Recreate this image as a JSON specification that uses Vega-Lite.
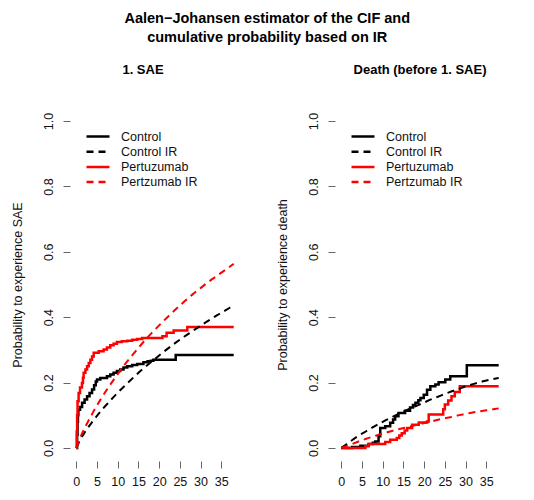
{
  "$schema": "https://vega.github.io/schema/vega-lite/v6.json",
  "padding": {"left": 11, "top": 11, "right": 0, "bottom": 0},
  "datasets": {
    "cif": [
      {"panel":"SAE","series":"Control","t":0,"v":0},
      {"panel":"SAE","series":"Control","t":0.2,"v":0.04},
      {"panel":"SAE","series":"Control","t":0.3,"v":0.08},
      {"panel":"SAE","series":"Control","t":0.4,"v":0.1},
      {"panel":"SAE","series":"Control","t":0.5,"v":0.117},
      {"panel":"SAE","series":"Control","t":0.9,"v":0.125},
      {"panel":"SAE","series":"Control","t":1.4,"v":0.138},
      {"panel":"SAE","series":"Control","t":2.0,"v":0.148},
      {"panel":"SAE","series":"Control","t":2.6,"v":0.158},
      {"panel":"SAE","series":"Control","t":3.2,"v":0.168},
      {"panel":"SAE","series":"Control","t":3.8,"v":0.179},
      {"panel":"SAE","series":"Control","t":4.3,"v":0.192},
      {"panel":"SAE","series":"Control","t":4.7,"v":0.203},
      {"panel":"SAE","series":"Control","t":5.0,"v":0.209},
      {"panel":"SAE","series":"Control","t":5.8,"v":0.214},
      {"panel":"SAE","series":"Control","t":7.4,"v":0.219},
      {"panel":"SAE","series":"Control","t":8.2,"v":0.225},
      {"panel":"SAE","series":"Control","t":9.0,"v":0.23},
      {"panel":"SAE","series":"Control","t":9.8,"v":0.235},
      {"panel":"SAE","series":"Control","t":10.6,"v":0.24},
      {"panel":"SAE","series":"Control","t":11.4,"v":0.246},
      {"panel":"SAE","series":"Control","t":12.3,"v":0.25},
      {"panel":"SAE","series":"Control","t":13.5,"v":0.254},
      {"panel":"SAE","series":"Control","t":14.7,"v":0.257},
      {"panel":"SAE","series":"Control","t":16.2,"v":0.262},
      {"panel":"SAE","series":"Control","t":17.2,"v":0.265},
      {"panel":"SAE","series":"Control","t":18.0,"v":0.267},
      {"panel":"SAE","series":"Control","t":18.6,"v":0.27},
      {"panel":"SAE","series":"Control","t":24.0,"v":0.284},
      {"panel":"SAE","series":"Control","t":38,"v":0.284},
      {"panel":"SAE","series":"Pertuzumab","t":0,"v":0},
      {"panel":"SAE","series":"Pertuzumab","t":0.1,"v":0.05},
      {"panel":"SAE","series":"Pertuzumab","t":0.2,"v":0.1},
      {"panel":"SAE","series":"Pertuzumab","t":0.3,"v":0.143},
      {"panel":"SAE","series":"Pertuzumab","t":0.56,"v":0.168},
      {"panel":"SAE","series":"Pertuzumab","t":0.9,"v":0.185},
      {"panel":"SAE","series":"Pertuzumab","t":1.37,"v":0.199},
      {"panel":"SAE","series":"Pertuzumab","t":1.6,"v":0.215},
      {"panel":"SAE","series":"Pertuzumab","t":1.77,"v":0.23},
      {"panel":"SAE","series":"Pertuzumab","t":2.2,"v":0.24},
      {"panel":"SAE","series":"Pertuzumab","t":2.6,"v":0.25},
      {"panel":"SAE","series":"Pertuzumab","t":3.0,"v":0.26},
      {"panel":"SAE","series":"Pertuzumab","t":3.4,"v":0.27},
      {"panel":"SAE","series":"Pertuzumab","t":3.8,"v":0.28},
      {"panel":"SAE","series":"Pertuzumab","t":4.2,"v":0.291},
      {"panel":"SAE","series":"Pertuzumab","t":5.4,"v":0.296},
      {"panel":"SAE","series":"Pertuzumab","t":6.6,"v":0.301},
      {"panel":"SAE","series":"Pertuzumab","t":7.4,"v":0.307},
      {"panel":"SAE","series":"Pertuzumab","t":8.2,"v":0.314},
      {"panel":"SAE","series":"Pertuzumab","t":9.0,"v":0.319},
      {"panel":"SAE","series":"Pertuzumab","t":9.8,"v":0.324},
      {"panel":"SAE","series":"Pertuzumab","t":11.0,"v":0.326},
      {"panel":"SAE","series":"Pertuzumab","t":12.3,"v":0.328},
      {"panel":"SAE","series":"Pertuzumab","t":13.5,"v":0.331},
      {"panel":"SAE","series":"Pertuzumab","t":14.7,"v":0.333},
      {"panel":"SAE","series":"Pertuzumab","t":15.9,"v":0.336},
      {"panel":"SAE","series":"Pertuzumab","t":20.8,"v":0.342},
      {"panel":"SAE","series":"Pertuzumab","t":21.8,"v":0.352},
      {"panel":"SAE","series":"Pertuzumab","t":23.5,"v":0.359},
      {"panel":"SAE","series":"Pertuzumab","t":26.8,"v":0.37},
      {"panel":"SAE","series":"Pertuzumab","t":38,"v":0.37},
      {"panel":"Death","series":"Control","t":0,"v":0},
      {"panel":"Death","series":"Control","t":2.6,"v":0.003},
      {"panel":"Death","series":"Control","t":4.6,"v":0.007},
      {"panel":"Death","series":"Control","t":6.6,"v":0.012},
      {"panel":"Death","series":"Control","t":7.6,"v":0.016},
      {"panel":"Death","series":"Control","t":8.2,"v":0.02},
      {"panel":"Death","series":"Control","t":9.0,"v":0.036},
      {"panel":"Death","series":"Control","t":9.4,"v":0.061},
      {"panel":"Death","series":"Control","t":10.6,"v":0.066},
      {"panel":"Death","series":"Control","t":11.8,"v":0.077},
      {"panel":"Death","series":"Control","t":12.5,"v":0.087},
      {"panel":"Death","series":"Control","t":13.0,"v":0.097},
      {"panel":"Death","series":"Control","t":13.8,"v":0.107},
      {"panel":"Death","series":"Control","t":15.4,"v":0.114},
      {"panel":"Death","series":"Control","t":16.6,"v":0.124},
      {"panel":"Death","series":"Control","t":17.3,"v":0.131},
      {"panel":"Death","series":"Control","t":17.9,"v":0.138},
      {"panel":"Death","series":"Control","t":18.6,"v":0.146},
      {"panel":"Death","series":"Control","t":19.1,"v":0.153},
      {"panel":"Death","series":"Control","t":19.9,"v":0.163},
      {"panel":"Death","series":"Control","t":20.7,"v":0.178},
      {"panel":"Death","series":"Control","t":21.5,"v":0.189},
      {"panel":"Death","series":"Control","t":22.7,"v":0.194},
      {"panel":"Death","series":"Control","t":23.5,"v":0.201},
      {"panel":"Death","series":"Control","t":25.1,"v":0.209},
      {"panel":"Death","series":"Control","t":26.3,"v":0.219},
      {"panel":"Death","series":"Control","t":30.3,"v":0.253},
      {"panel":"Death","series":"Control","t":38,"v":0.253},
      {"panel":"Death","series":"Pertuzumab","t":0,"v":0},
      {"panel":"Death","series":"Pertuzumab","t":5.8,"v":0.005},
      {"panel":"Death","series":"Pertuzumab","t":6.6,"v":0.012},
      {"panel":"Death","series":"Pertuzumab","t":10.6,"v":0.018},
      {"panel":"Death","series":"Pertuzumab","t":11.8,"v":0.025},
      {"panel":"Death","series":"Pertuzumab","t":13.4,"v":0.03},
      {"panel":"Death","series":"Pertuzumab","t":14.0,"v":0.038},
      {"panel":"Death","series":"Pertuzumab","t":14.6,"v":0.045},
      {"panel":"Death","series":"Pertuzumab","t":15.3,"v":0.053},
      {"panel":"Death","series":"Pertuzumab","t":15.9,"v":0.061},
      {"panel":"Death","series":"Pertuzumab","t":17.1,"v":0.071},
      {"panel":"Death","series":"Pertuzumab","t":18.7,"v":0.078},
      {"panel":"Death","series":"Pertuzumab","t":20.7,"v":0.081},
      {"panel":"Death","series":"Pertuzumab","t":21.1,"v":0.102},
      {"panel":"Death","series":"Pertuzumab","t":24.6,"v":0.118},
      {"panel":"Death","series":"Pertuzumab","t":25.0,"v":0.133},
      {"panel":"Death","series":"Pertuzumab","t":25.8,"v":0.145},
      {"panel":"Death","series":"Pertuzumab","t":26.6,"v":0.158},
      {"panel":"Death","series":"Pertuzumab","t":27.4,"v":0.171},
      {"panel":"Death","series":"Pertuzumab","t":28.6,"v":0.189},
      {"panel":"Death","series":"Pertuzumab","t":38,"v":0.189}
    ],
    "ir": [
      {"panel":"SAE","series":"Control IR","t":0,"v":0},
      {"panel":"SAE","series":"Control IR","t":1,"v":0.026},
      {"panel":"SAE","series":"Control IR","t":2,"v":0.047},
      {"panel":"SAE","series":"Control IR","t":4,"v":0.082},
      {"panel":"SAE","series":"Control IR","t":6,"v":0.114},
      {"panel":"SAE","series":"Control IR","t":8,"v":0.142},
      {"panel":"SAE","series":"Control IR","t":10,"v":0.169},
      {"panel":"SAE","series":"Control IR","t":12,"v":0.194},
      {"panel":"SAE","series":"Control IR","t":14,"v":0.218},
      {"panel":"SAE","series":"Control IR","t":16,"v":0.241},
      {"panel":"SAE","series":"Control IR","t":18,"v":0.262},
      {"panel":"SAE","series":"Control IR","t":20,"v":0.283},
      {"panel":"SAE","series":"Control IR","t":22,"v":0.303},
      {"panel":"SAE","series":"Control IR","t":24,"v":0.322},
      {"panel":"SAE","series":"Control IR","t":26,"v":0.34},
      {"panel":"SAE","series":"Control IR","t":28,"v":0.357},
      {"panel":"SAE","series":"Control IR","t":30,"v":0.374},
      {"panel":"SAE","series":"Control IR","t":32,"v":0.39},
      {"panel":"SAE","series":"Control IR","t":34,"v":0.406},
      {"panel":"SAE","series":"Control IR","t":36,"v":0.421},
      {"panel":"SAE","series":"Control IR","t":38,"v":0.436},
      {"panel":"SAE","series":"Pertzumab IR","t":0,"v":0},
      {"panel":"SAE","series":"Pertzumab IR","t":1,"v":0.033},
      {"panel":"SAE","series":"Pertzumab IR","t":2,"v":0.06},
      {"panel":"SAE","series":"Pertzumab IR","t":4,"v":0.108},
      {"panel":"SAE","series":"Pertzumab IR","t":6,"v":0.151},
      {"panel":"SAE","series":"Pertzumab IR","t":8,"v":0.19},
      {"panel":"SAE","series":"Pertzumab IR","t":10,"v":0.226},
      {"panel":"SAE","series":"Pertzumab IR","t":12,"v":0.26},
      {"panel":"SAE","series":"Pertzumab IR","t":14,"v":0.291},
      {"panel":"SAE","series":"Pertzumab IR","t":16,"v":0.321},
      {"panel":"SAE","series":"Pertzumab IR","t":18,"v":0.349},
      {"panel":"SAE","series":"Pertzumab IR","t":20,"v":0.375},
      {"panel":"SAE","series":"Pertzumab IR","t":22,"v":0.4},
      {"panel":"SAE","series":"Pertzumab IR","t":24,"v":0.424},
      {"panel":"SAE","series":"Pertzumab IR","t":26,"v":0.447},
      {"panel":"SAE","series":"Pertzumab IR","t":28,"v":0.469},
      {"panel":"SAE","series":"Pertzumab IR","t":30,"v":0.489},
      {"panel":"SAE","series":"Pertzumab IR","t":32,"v":0.509},
      {"panel":"SAE","series":"Pertzumab IR","t":34,"v":0.527},
      {"panel":"SAE","series":"Pertzumab IR","t":36,"v":0.545},
      {"panel":"SAE","series":"Pertzumab IR","t":38,"v":0.563},
      {"panel":"Death","series":"Control IR","t":0,"v":0},
      {"panel":"Death","series":"Control IR","t":2,"v":0.018},
      {"panel":"Death","series":"Control IR","t":4,"v":0.036},
      {"panel":"Death","series":"Control IR","t":6,"v":0.051},
      {"panel":"Death","series":"Control IR","t":8,"v":0.066},
      {"panel":"Death","series":"Control IR","t":10,"v":0.08},
      {"panel":"Death","series":"Control IR","t":12,"v":0.093},
      {"panel":"Death","series":"Control IR","t":14,"v":0.105},
      {"panel":"Death","series":"Control IR","t":16,"v":0.117},
      {"panel":"Death","series":"Control IR","t":18,"v":0.128},
      {"panel":"Death","series":"Control IR","t":20,"v":0.139},
      {"panel":"Death","series":"Control IR","t":22,"v":0.15},
      {"panel":"Death","series":"Control IR","t":24,"v":0.16},
      {"panel":"Death","series":"Control IR","t":26,"v":0.17},
      {"panel":"Death","series":"Control IR","t":28,"v":0.179},
      {"panel":"Death","series":"Control IR","t":30,"v":0.188},
      {"panel":"Death","series":"Control IR","t":32,"v":0.196},
      {"panel":"Death","series":"Control IR","t":34,"v":0.203},
      {"panel":"Death","series":"Control IR","t":36,"v":0.209},
      {"panel":"Death","series":"Control IR","t":38,"v":0.214},
      {"panel":"Death","series":"Pertzumab IR","t":0,"v":0},
      {"panel":"Death","series":"Pertzumab IR","t":2,"v":0.009},
      {"panel":"Death","series":"Pertzumab IR","t":4,"v":0.019},
      {"panel":"Death","series":"Pertzumab IR","t":6,"v":0.028},
      {"panel":"Death","series":"Pertzumab IR","t":8,"v":0.036},
      {"panel":"Death","series":"Pertzumab IR","t":10,"v":0.044},
      {"panel":"Death","series":"Pertzumab IR","t":12,"v":0.051},
      {"panel":"Death","series":"Pertzumab IR","t":14,"v":0.058},
      {"panel":"Death","series":"Pertzumab IR","t":16,"v":0.064},
      {"panel":"Death","series":"Pertzumab IR","t":18,"v":0.07},
      {"panel":"Death","series":"Pertzumab IR","t":20,"v":0.076},
      {"panel":"Death","series":"Pertzumab IR","t":22,"v":0.082},
      {"panel":"Death","series":"Pertzumab IR","t":24,"v":0.088},
      {"panel":"Death","series":"Pertzumab IR","t":26,"v":0.093},
      {"panel":"Death","series":"Pertzumab IR","t":28,"v":0.099},
      {"panel":"Death","series":"Pertzumab IR","t":30,"v":0.104},
      {"panel":"Death","series":"Pertzumab IR","t":32,"v":0.109},
      {"panel":"Death","series":"Pertzumab IR","t":34,"v":0.113},
      {"panel":"Death","series":"Pertzumab IR","t":36,"v":0.117},
      {"panel":"Death","series":"Pertzumab IR","t":38,"v":0.121}
    ]
  },
  "title": {
    "text": ["Aalen−Johansen estimator of the CIF and", "cumulative probability based on IR"],
    "fontSize": 14.5,
    "fontWeight": "bold",
    "lineHeight": 18.5,
    "anchor": "middle",
    "dx": 9,
    "offset": 19,
    "color": "#000000"
  },
  "hconcat": [
    {
      "width": 170,
      "height": 353,
      "title": {"text": "1. SAE", "fontSize": 13, "fontWeight": "bold", "offset": 31, "dx": -12, "anchor": "middle", "color": "#000000"},
      "layer": [
        {
          "data": {"name": "cif"},
          "transform": [{"filter": "datum.panel === 'SAE'"}],
          "mark": {"type": "line", "interpolate": "step-after", "strokeWidth": 2.5},
          "encoding": {
            "x": {"field": "t", "type": "quantitative", "scale": {"domain": [-1.52, 39.52], "nice": false, "zero": false},
                  "axis": {"values": [0,5,10,15,20,25,30,35], "title": null, "labelFlush": false, "labelOverlap": false, "labelPadding": 7}},
            "y": {"field": "v", "type": "quantitative", "scale": {"domain": [-0.04, 1.04], "nice": false, "zero": false},
                  "axis": {"values": [0,0.2,0.4,0.6,0.8,1], "format": ".1f", "title": "Probability to experience SAE", "labelAngle": -90, "labelAlign": "center", "labelBaseline": "bottom", "labelOverlap": false, "labelPadding": 7.5, "titlePadding": 18}},
            "color": {"field": "series", "type": "nominal", "scale": {"domain": ["Control","Control IR","Pertuzumab","Pertzumab IR"], "range": ["#000000","#000000","#ff0000","#ff0000"]},
                      "legend": {"orient": "none", "legendX": 21, "legendY": 21.5, "title": null}},
            "strokeDash": {"field": "series", "type": "nominal", "scale": {"domain": ["Control","Control IR","Pertuzumab","Pertzumab IR"], "range": [[1,0],[7,5],[1,0],[7,5]]},
                      "legend": {"orient": "none", "legendX": 21, "legendY": 21.5, "title": null}}
          }
        },
        {
          "data": {"name": "ir"},
          "transform": [{"filter": "datum.panel === 'SAE'"}],
          "mark": {"type": "line", "interpolate": "monotone", "strokeWidth": 2},
          "encoding": {
            "x": {"field": "t", "type": "quantitative",
                  "axis": {"values": [0,5,10,15,20,25,30,35], "title": null, "labelFlush": false, "labelOverlap": false, "labelPadding": 7}},
            "y": {"field": "v", "type": "quantitative",
                  "axis": {"values": [0,0.2,0.4,0.6,0.8,1], "format": ".1f", "title": "Probability to experience SAE", "labelAngle": -90, "labelAlign": "center", "labelBaseline": "bottom", "labelOverlap": false, "labelPadding": 7.5, "titlePadding": 18}},
            "color": {"field": "series", "type": "nominal"},
            "strokeDash": {"field": "series", "type": "nominal"}
          }
        },
        {
          "mark": {"type": "rule", "color": "#666666", "strokeWidth": 1},
          "encoding": {"x": {"datum": -1.52}, "y": {"datum": 0}, "y2": {"datum": 1}}
        },
        {
          "mark": {"type": "rule", "color": "#666666", "strokeWidth": 1},
          "encoding": {"x": {"datum": 0}, "x2": {"datum": 39.52}, "y": {"datum": -0.04}}
        }
      ]
    },
    {
      "width": 170,
      "height": 353,
      "title": {"text": "Death (before 1. SAE)", "fontSize": 13, "fontWeight": "bold", "offset": 31, "dx": 0, "anchor": "middle", "color": "#000000"},
      "layer": [
        {
          "data": {"name": "cif"},
          "transform": [{"filter": "datum.panel === 'Death'"}],
          "mark": {"type": "line", "interpolate": "step-after", "strokeWidth": 2.5},
          "encoding": {
            "x": {"field": "t", "type": "quantitative", "scale": {"domain": [-1.52, 39.52], "nice": false, "zero": false},
                  "axis": {"values": [0,5,10,15,20,25,30,35], "title": null, "labelFlush": false, "labelOverlap": false, "labelPadding": 7}},
            "y": {"field": "v", "type": "quantitative", "scale": {"domain": [-0.04, 1.04], "nice": false, "zero": false},
                  "axis": {"values": [0,0.2,0.4,0.6,0.8,1], "format": ".1f", "title": "Probability to experience death", "labelAngle": -90, "labelAlign": "center", "labelBaseline": "bottom", "labelOverlap": false, "labelPadding": 7.5, "titlePadding": 18}},
            "color": {"field": "series", "type": "nominal", "scale": {"domain": ["Control","Control IR","Pertuzumab","Pertzumab IR"], "range": ["#000000","#000000","#ff0000","#ff0000"]},
                      "legend": {"orient": "none", "legendX": 21, "legendY": 21.5, "title": null}},
            "strokeDash": {"field": "series", "type": "nominal", "scale": {"domain": ["Control","Control IR","Pertuzumab","Pertzumab IR"], "range": [[1,0],[7,5],[1,0],[7,5]]},
                      "legend": {"orient": "none", "legendX": 21, "legendY": 21.5, "title": null}}
          }
        },
        {
          "data": {"name": "ir"},
          "transform": [{"filter": "datum.panel === 'Death'"}],
          "mark": {"type": "line", "interpolate": "monotone", "strokeWidth": 2},
          "encoding": {
            "x": {"field": "t", "type": "quantitative",
                  "axis": {"values": [0,5,10,15,20,25,30,35], "title": null, "labelFlush": false, "labelOverlap": false, "labelPadding": 7}},
            "y": {"field": "v", "type": "quantitative",
                  "axis": {"values": [0,0.2,0.4,0.6,0.8,1], "format": ".1f", "title": "Probability to experience death", "labelAngle": -90, "labelAlign": "center", "labelBaseline": "bottom", "labelOverlap": false, "labelPadding": 7.5, "titlePadding": 18}},
            "color": {"field": "series", "type": "nominal"},
            "strokeDash": {"field": "series", "type": "nominal"}
          }
        },
        {
          "mark": {"type": "rule", "color": "#666666", "strokeWidth": 1},
          "encoding": {"x": {"datum": -1.52}, "y": {"datum": 0}, "y2": {"datum": 1}}
        },
        {
          "mark": {"type": "rule", "color": "#666666", "strokeWidth": 1},
          "encoding": {"x": {"datum": 0}, "x2": {"datum": 39.52}, "y": {"datum": -0.04}}
        }
      ]
    }
  ],
  "resolve": {
    "scale": {"color": "independent", "strokeDash": "independent"},
    "legend": {"color": "independent", "strokeDash": "independent"}
  },
  "config": {
    "font": "Liberation Sans",
    "view": {"stroke": null},
    "concat": {"spacing": 36},
    "axis": {
      "grid": false,
      "domain": false,
      "tickColor": "#666666",
      "tickSize": 7,
      "labelFont": "Liberation Sans",
      "labelFontSize": 12.5,
      "labelColor": "#111111",
      "titleFont": "Liberation Sans",
      "titleFontSize": 12.5,
      "titleFontWeight": "normal",
      "titleColor": "#111111",
      "labelOverlap": false
    },
    "axisX": {"labelOverlap": false, "labelFlush": false, "tickCount": 8, "labelSeparation": 0},
    "title": {"font": "Liberation Sans"},
    "legend": {
      "symbolType": "M-2,0H2",
      "symbolSize": 132,
      "symbolStrokeWidth": 2.5,
      "labelFont": "Liberation Sans",
      "labelFontSize": 12.5,
      "labelColor": "#111111",
      "labelOffset": 16,
      "rowPadding": 1.2,
      "padding": 0
    }
  }
}
